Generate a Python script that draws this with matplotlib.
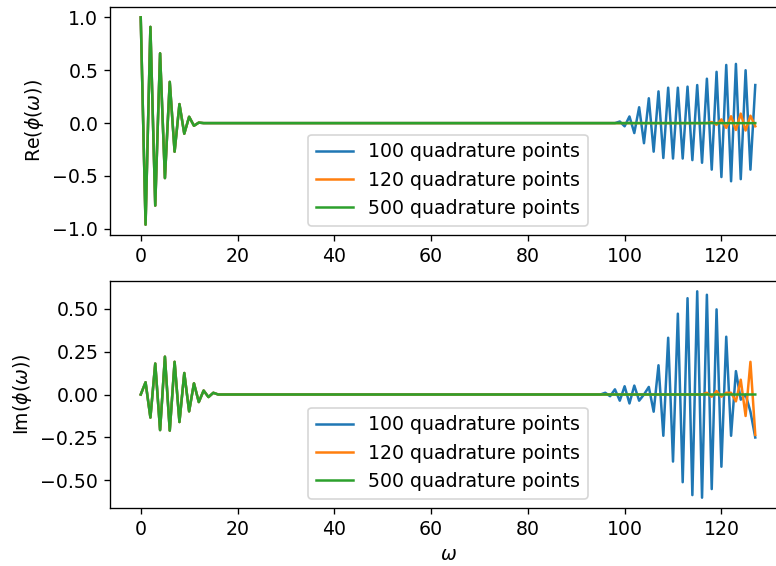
import numpy as np
import matplotlib
matplotlib.use("Agg")
import matplotlib.pyplot as plt

# characteristic function sampled at integer omega
omega = np.arange(128)

# real part: decaying start shared by all quadratures (omega = 0..12)
re_head = [1.0, -0.96, 0.91, -0.78, 0.66, -0.52, 0.39, -0.27, 0.18, -0.10, 0.06, -0.025, 0.005]
# real part: spurious tail of the 100-point rule (omega = 98..127)
re_tail_100 = [0.0, 0.015, -0.03, 0.063, -0.094, 0.15, -0.19, 0.235, -0.27, 0.30,
               -0.33, 0.335, -0.335, 0.335, -0.335, 0.345, -0.35, 0.36, -0.375, 0.42,
               -0.44, 0.485, -0.51, 0.55, -0.55, 0.56, -0.53, 0.50, -0.44, 0.36]
# real part: tail of the 120-point rule (omega = 118..127)
re_tail_120 = [0.01, -0.015, 0.035, -0.045, 0.065, -0.065, 0.09, -0.07, 0.07, -0.03]

# imaginary part: start (omega = 0..15)
im_head = [0.0, 0.071, -0.134, 0.18, -0.207, 0.22, -0.21, 0.19, -0.16, 0.125,
           -0.098, 0.065, -0.044, 0.023, -0.015, 0.01]
# imaginary part: 100-point tail (omega = 96..127)
im_tail_100 = [0.01, -0.01, 0.03, -0.036, 0.048, -0.052, 0.052, -0.036, 0.0, 0.044,
               -0.10, 0.17, -0.24, 0.33, -0.39, 0.47, -0.51, 0.56, -0.585, 0.60,
               -0.60, 0.58, -0.55, 0.495, -0.42, 0.336, -0.24, 0.136, -0.03, 0.0,
               -0.10, -0.25]
# imaginary part: 120-point tail (omega = 117..127)
im_tail_120 = [0.01, -0.013, 0.02, -0.013, 0.01, 0.01, -0.04, 0.086, -0.125, 0.19, -0.235]

labels = ["100 quadrature points", "120 quadrature points", "500 quadrature points"]


def build(head, tail=None):
    y = np.zeros(len(omega))
    y[:len(head)] = head
    if tail is not None:
        y[len(omega) - len(tail):] = tail
    return y


re_series = [build(re_head, re_tail_100), build(re_head, re_tail_120), build(re_head)]
im_series = [build(im_head, im_tail_100), build(im_head, im_tail_120), build(im_head)]

plt.rcParams["font.size"] = 11.3

fig = plt.figure(figsize=(776 / 120, 566 / 120), dpi=120)
ax = fig.add_axes([110 / 776, 1 - 235 / 566, 676 / 776, 228 / 566])
bx = fig.add_axes([110 / 776, 1 - 508 / 566, 676 / 776, 227 / 566])

for y, lab in zip(re_series, labels):
    ax.plot(omega, y, label=lab)
for y, lab in zip(im_series, labels):
    bx.plot(omega, y, label=lab)

ax.set_ylabel(r"Re($\phi(\omega)$)")
bx.set_ylabel(r"Im($\phi(\omega)$)")
bx.set_xlabel(r"$\omega$")
ax.set_yticks([-1.0, -0.5, 0.0, 0.5, 1.0])
bx.set_yticks([-0.5, -0.25, 0.0, 0.25, 0.5])
ax.legend(loc="lower center")
bx.legend(loc="lower center")

fig.savefig("out.png", dpi=120)
